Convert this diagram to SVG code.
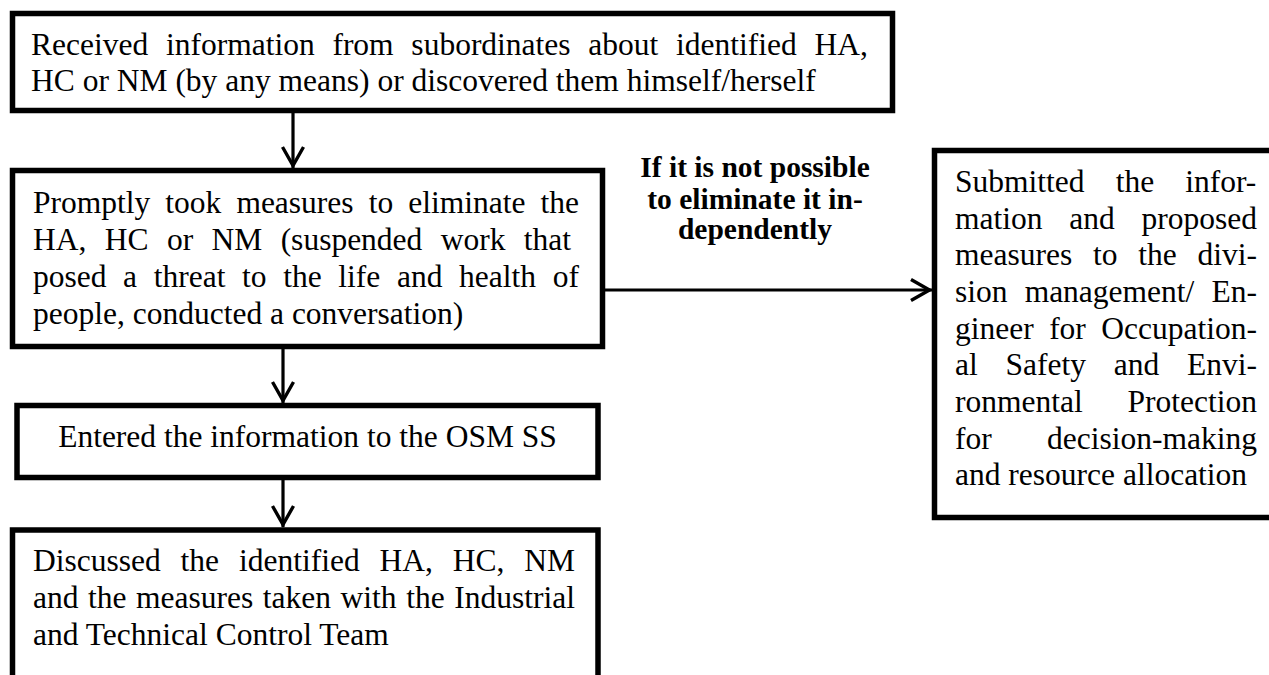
<svg xmlns="http://www.w3.org/2000/svg" width="1269" height="675" viewBox="0 0 1269 675">
<style>
.box{fill:#fff;stroke:#000;stroke-width:5.5}
.t{font-family:"Liberation Serif","Times New Roman",serif;font-size:31.5px;fill:#000}
.b{font-family:"Liberation Serif","Times New Roman",serif;font-size:29.5px;font-weight:bold;fill:#000}
.c{fill:none;stroke:#000;stroke-width:3.2}
</style>
<defs>
<marker id="arr" markerUnits="userSpaceOnUse" viewBox="-26 -14 30 28" markerWidth="30" markerHeight="28" refX="0" refY="0" orient="auto">
<path d="M-21,-10.5 L-2.5,0 L-21,10.5" fill="none" stroke="#000" stroke-width="3.4"/>
</marker>
</defs>
<rect width="1269" height="675" fill="#fff"/>
<g id="connectors">
<line class="c" x1="293" y1="113" x2="293" y2="168" marker-end="url(#arr)"/>
<line class="c" x1="283" y1="349" x2="283" y2="403" marker-end="url(#arr)"/>
<line class="c" x1="283" y1="480" x2="283" y2="527" marker-end="url(#arr)"/>
<line class="c" x1="605" y1="290" x2="932" y2="290" marker-end="url(#arr)"/>
</g>
<g id="n1">
<rect class="box" x="12.5" y="13.5" width="880" height="97"/>
<text class="t" x="31" y="55" word-spacing="9.87">Received information from subordinates about identified HA,</text>
<text class="t" x="31" y="91">HC or NM (by any means) or discovered them himself/herself</text>
</g>
<g id="n2">
<rect class="box" x="12.5" y="170.5" width="590" height="176"/>
<text class="t" x="33" y="212.5" word-spacing="7.18">Promptly took measures to eliminate the</text>
<text class="t" x="33" y="249.5" word-spacing="10.5">HA, HC or NM (suspended work that</text>
<text class="t" x="33" y="286.5" word-spacing="8.76">posed a threat to the life and health of</text>
<text class="t" x="33" y="323.5">people, conducted a conversation)</text>
</g>
<g id="label">
<text class="b" x="755" y="177" text-anchor="middle">If it is not possible</text>
<text class="b" x="755" y="208.5" text-anchor="middle">to eliminate it in-</text>
<text class="b" x="755" y="239" text-anchor="middle">dependently</text>
</g>
<g id="n3">
<rect class="box" x="17" y="405.5" width="581" height="72"/>
<text class="t" x="307.5" y="447" text-anchor="middle">Entered the information to the OSM SS</text>
</g>
<g id="n4">
<rect class="box" x="12.5" y="530" width="585.5" height="200"/>
<text class="t" x="33" y="571" word-spacing="11.98">Discussed the identified HA, HC, NM</text>
<text class="t" x="33" y="608" word-spacing="1.68">and the measures taken with the Industrial</text>
<text class="t" x="33" y="645">and Technical Control Team</text>
</g>
<g id="n5">
<rect class="box" x="934.5" y="150.5" width="340" height="367"/>
<text class="t" x="955" y="192" word-spacing="23.25">Submitted the infor-</text>
<text class="t" x="955" y="228.7" word-spacing="18.9">mation and proposed</text>
<text class="t" x="955" y="265.3" word-spacing="12.9">measures to the divi-</text>
<text class="t" x="955" y="302" word-spacing="9.25">sion management/ En-</text>
<text class="t" x="955" y="338.7" word-spacing="7.55">gineer for Occupation-</text>
<text class="t" x="955" y="375.3" word-spacing="19.9">al Safety and Envi-</text>
<text class="t" x="955" y="412" word-spacing="36.9">ronmental Protection</text>
<text class="t" x="955" y="448.7" word-spacing="47.4">for decision-making</text>
<text class="t" x="955" y="485.3">and resource allocation</text>
</g>
</svg>
